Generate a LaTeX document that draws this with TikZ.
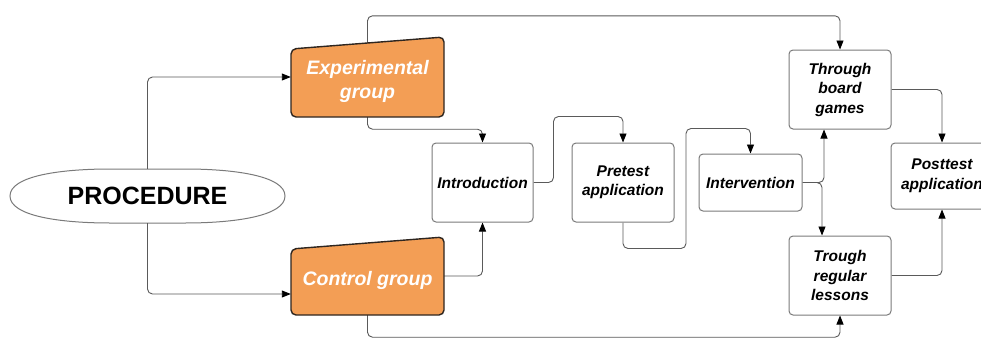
\documentclass[tikz,border=0pt]{standalone}
\usepackage{fontspec}
\setmainfont{Liberation Sans}
\usetikzlibrary{arrows.meta,backgrounds,calc}
\definecolor{boxline}{HTML}{7A7A7A}
\definecolor{wirecol}{HTML}{5A5A5A}
\definecolor{groupfill}{HTML}{F39E55}
\definecolor{groupline}{HTML}{2E2620}
\begin{document}
\begin{tikzpicture}[x=1pt,y=-1pt,
  stepbox/.style={draw=boxline, line width=1pt, rounded corners=4pt, fill=white,
    inner sep=0pt, align=center,
    font=\bfseries\itshape\fontsize{15.5}{19.5}\selectfont},
  grouplabel/.style={inner sep=0pt, align=center, text=white,
    font=\bfseries\itshape\fontsize{19.5}{24}\selectfont},
  groupshape/.style={fill=groupfill, draw=groupline, line width=1.4pt, rounded corners=5pt},
  wire/.style={draw=wirecol, line width=0.9pt, rounded corners=5pt,
    -{Triangle[length=9pt,width=7pt,color=black]}}]

\useasboundingbox (0,0) rectangle (981,340);
\clip (0,0) rectangle (981,340);

% start shape
\node[minimum width=275pt, minimum height=54pt, inner sep=0pt,
      font=\bfseries\fontsize{25}{30}\selectfont] (proc) at (147.5,196) {PROCEDURE};

% the two groups
\draw[groupshape] (291,117) -- (444,117) -- (444,37) -- (291,49) -- cycle;
\node[grouplabel, minimum width=153pt, minimum height=72pt] (exp) at (367.5,81)
  {Experimental\\group};
\draw[groupshape] (291,315) -- (444,315) -- (444,237) -- (291,249) -- cycle;
\node[grouplabel, minimum width=153pt, minimum height=70pt] (ctrl) at (367.5,280)
  {Control group};

% steps
\node[stepbox, minimum width=101pt, minimum height=79pt] (intro) at (482.5,182.5) {Introduction};
\node[stepbox, minimum width=102pt, minimum height=79pt] (pretest) at (623,182.5) {Pretest\\application};
\node[stepbox, minimum width=103pt, minimum height=57pt] (interv) at (750.5,182.5) {Intervention};
\node[stepbox, minimum width=102pt, minimum height=79pt] (board) at (840,89.5) {Through\\board\\games};
\node[stepbox, minimum width=102pt, minimum height=79pt] (regular) at (840,275.5) {Trough\\regular\\lessons};
\node[stepbox, minimum width=102pt, minimum height=66pt] (post) at (942,176) {Posttest\\application};

% page, outline of the start shape and connectors, all behind the boxes
\begin{pgfonlayer}{background}
\fill[white] (0,0) rectangle (981,340);
\draw[boxline, line width=1pt, fill=white]
  (10,196) .. controls (10,176) and (60,169) .. (110,169) -- (185,169)
  .. controls (235,169) and (285,176) .. (285,196)
  .. controls (285,216) and (235,223) .. (185,223) -- (110,223)
  .. controls (60,223) and (10,216) .. (10,196) -- cycle;
\draw[wire] (proc.north) |- ([yshift=4pt]exp.west);
\draw[wire] (proc.south) |- ([yshift=-14pt]ctrl.west);
\draw[wire] (exp.south) -- ++(0,12) -| (intro.north);
\draw[wire] ([yshift=4pt]ctrl.east) -| (intro.south);
\draw[wire] (exp.north) -- ++(0,-29) -| (board.north);
\draw[wire] (ctrl.south) -- ++(0,22) -| (regular.south);
\draw[wire] (intro.east) -- ++(20,0) |- ($(pretest.north)+(0,-26)$) -- (pretest.north);
\draw[wire] (pretest.south) -- ++(0,26) -- ++(63,0) |- ($(interv.north)+(0,-25)$) -- (interv.north);
\draw[wire] (interv.east) -| ([xshift=-16pt]board.south);
\draw[wire] (interv.east) -| ([xshift=-18pt]regular.north);
\draw[wire] (board.east) -| (post.north);
\draw[wire] (regular.east) -| (post.south);
\end{pgfonlayer}
\end{tikzpicture}
\end{document}
